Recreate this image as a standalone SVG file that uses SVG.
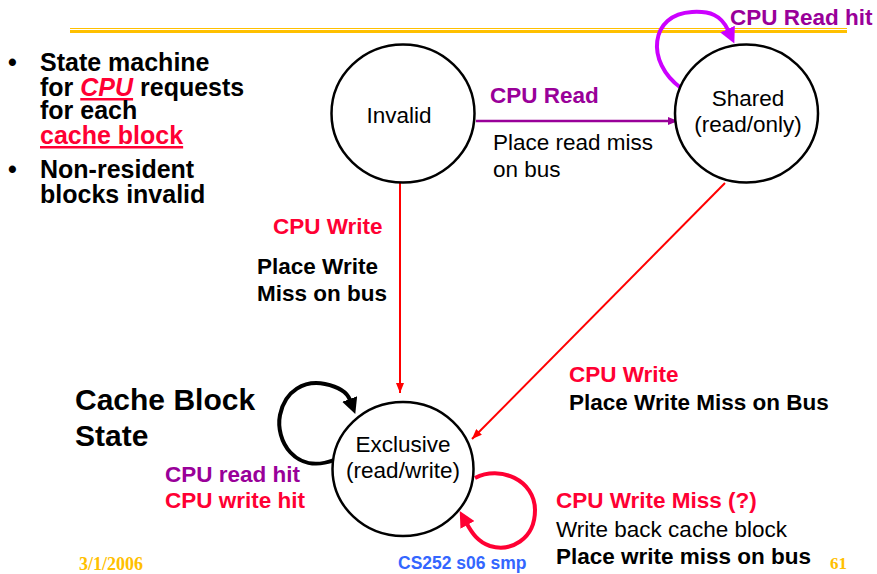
<svg xmlns="http://www.w3.org/2000/svg" width="877" height="574" viewBox="0 0 877 574">
<defs>
<style>
text{font-family:"Liberation Sans",Arial,sans-serif}
.b{font-weight:bold}
.lbl{font-size:22.5px}
.bul{font-size:25px;font-weight:bold;fill:#000}
.red{fill:#FF0033}
.pur{fill:#990099}
.blk{fill:#000}
.node{fill:#fff;stroke:#000;stroke-width:2.5}
.nt{font-size:22.5px;text-anchor:middle;fill:#000}
.thin{fill:none;stroke:#FF0000;stroke-width:2}
.gold{fill:#FFC000;font-family:"Liberation Serif","Times New Roman",serif;font-weight:bold}
</style>
<marker id="ahRed" viewBox="0 0 10 8" refX="10" refY="4" markerWidth="10" markerHeight="8" markerUnits="userSpaceOnUse" orient="auto"><path d="M0,0 L10,4 L0,8 z" fill="#FF0000"/></marker>
<marker id="ahPur" viewBox="0 0 10 8" refX="10" refY="4" markerWidth="10" markerHeight="8" markerUnits="userSpaceOnUse" orient="auto"><path d="M0,0 L10,4 L0,8 z" fill="#990099"/></marker>
<marker id="bigMag" viewBox="0 0 16 16" refX="1" refY="8" markerWidth="16" markerHeight="16" markerUnits="userSpaceOnUse" orient="auto"><path d="M0,0 L16,8 L0,16 z" fill="#CC00FF"/></marker>
<marker id="bigBlk" viewBox="0 0 16 16" refX="1" refY="8" markerWidth="16" markerHeight="16" markerUnits="userSpaceOnUse" orient="auto"><path d="M0,0 L16,8 L0,16 z" fill="#000"/></marker>
<marker id="bigRed" viewBox="0 0 16 16" refX="1" refY="8" markerWidth="16" markerHeight="16" markerUnits="userSpaceOnUse" orient="auto"><path d="M0,0 L16,8 L0,16 z" fill="#FF0033"/></marker>
</defs>
<rect width="877" height="574" fill="#fff"/>

<g id="title-rule">
<line x1="70" y1="28.5" x2="847" y2="28.5" stroke="#FFC000" stroke-width="1"/>
<line x1="70" y1="31.5" x2="847" y2="31.5" stroke="#FFC000" stroke-width="3"/>
</g>

<g id="bullets">
<text class="bul" x="8" y="71">•</text>
<text class="bul" x="40" y="71">State machine</text>
<text class="bul" x="40" y="96">for <tspan class="red" font-style="italic" text-decoration="underline">CPU</tspan> requests</text>
<text class="bul" x="40" y="119">for each</text>
<text class="bul red" x="40" y="144" text-decoration="underline">cache block</text>
<text class="bul" x="8" y="178">•</text>
<text class="bul" x="40" y="178">Non-resident</text>
<text class="bul" x="40" y="203">blocks invalid</text>
</g>

<g id="caption">
<text class="b blk" font-size="30" x="75" y="410">Cache Block</text>
<text class="b blk" font-size="30" x="75" y="446">State</text>
</g>

<g id="connectors">
<line x1="476" y1="121" x2="678" y2="121" stroke="#990099" stroke-width="2.5" marker-end="url(#ahPur)"/>
<line class="thin" x1="400" y1="183" x2="400" y2="393" marker-end="url(#ahRed)"/>
<line class="thin" x1="725" y1="183" x2="472" y2="439" marker-end="url(#ahRed)"/>
<path d="M 681 88 C 645 62, 650 14, 692 12 C 710 11, 721 15, 728 30" fill="none" stroke="#CC00FF" stroke-width="4" marker-end="url(#bigMag)"/>
<path d="M 334 460 C 295 475, 275 440, 280 415 C 285 390, 305 380, 325 384 C 340 387, 347 392, 350 400" fill="none" stroke="#000" stroke-width="4" marker-end="url(#bigBlk)"/>
<path d="M 475 478 C 500 465, 535 480, 535 510 C 535 540, 510 552, 490 546 C 478 542, 472 533, 467 524" fill="none" stroke="#FF0033" stroke-width="4" marker-end="url(#bigRed)"/>
</g>

<g id="invalid">
<ellipse class="node" cx="403" cy="113.5" rx="71.5" ry="69"/>
<text class="nt" x="399" y="123">Invalid</text>
</g>
<g id="shared">
<ellipse class="node" cx="746.5" cy="113.5" rx="71.5" ry="69"/>
<text class="nt" x="748" y="106">Shared</text>
<text class="nt" x="748" y="132">(read/only)</text>
</g>
<g id="exclusive">
<ellipse class="node" cx="403" cy="469" rx="70.5" ry="67"/>
<text class="nt" x="403" y="452">Exclusive</text>
<text class="nt" x="403" y="478">(read/write)</text>
</g>

<g id="labels">
<text class="lbl b pur" x="730" y="25">CPU Read hit</text>
<text class="lbl b pur" x="490" y="103">CPU Read</text>
<text class="lbl blk" x="493" y="150">Place read miss</text>
<text class="lbl blk" x="493" y="177">on bus</text>
<text class="lbl b red" x="273" y="234">CPU Write</text>
<text class="lbl b blk" x="257" y="274">Place Write</text>
<text class="lbl b blk" x="257" y="301">Miss on bus</text>
<text class="lbl b red" x="569" y="382">CPU Write</text>
<text class="lbl b blk" x="569" y="410">Place Write Miss on Bus</text>
<text class="lbl b pur" x="165" y="482">CPU read hit</text>
<text class="lbl b red" x="165" y="508">CPU write hit</text>
<text class="lbl b red" x="556" y="508">CPU Write Miss (?)</text>
<text class="lbl blk" x="556" y="537">Write back cache block</text>
<text class="lbl b blk" x="556" y="564">Place write miss on bus</text>
</g>

<g id="footer">
<text class="gold" font-size="18" x="79" y="570">3/1/2006</text>
<text class="b" font-size="17.5" fill="#3366FF" x="398" y="569">CS252 s06 smp</text>
<text class="gold" font-size="17" x="830" y="569">61</text>
</g>
</svg>
